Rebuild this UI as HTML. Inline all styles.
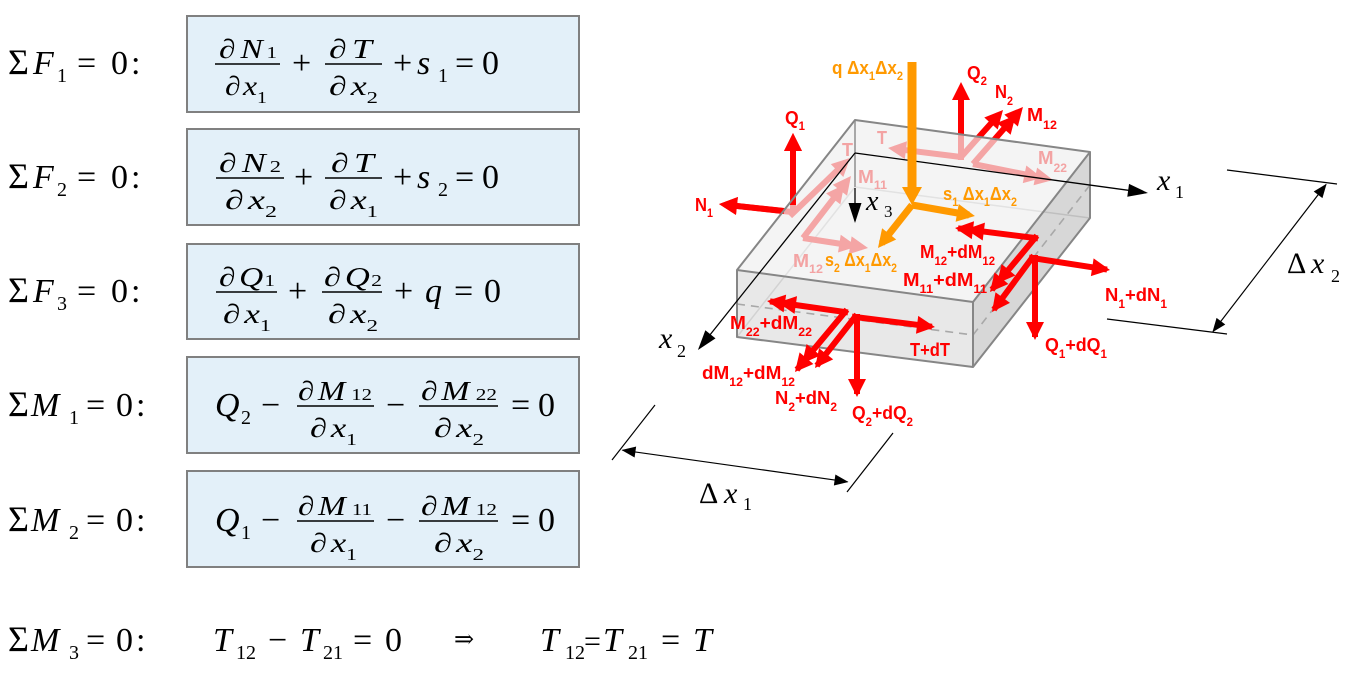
<!DOCTYPE html>
<html><head><meta charset="utf-8"><style>
html,body{margin:0;padding:0;background:#fff;}
svg{display:block;}
.eq, .eq text{font-family:"Liberation Serif","DejaVu Serif",serif;fill:#000;}
.i{font-style:italic;}
.lab, .lab text{font-family:"Liberation Sans","DejaVu Sans",sans-serif;font-weight:bold;font-size:18.5px;}
.r{fill:#ff0000;} .p{fill:#f3a3a3;} .o{fill:#ff9900;}
.sb{font-size:12px;}
.ax, .ax text{font-family:"Liberation Serif","DejaVu Serif",serif;fill:#000;}
</style></head><body>
<svg width="1354" height="681" viewBox="0 0 1354 681" xmlns="http://www.w3.org/2000/svg">
<defs>
<marker id="ar" markerUnits="userSpaceOnUse" orient="auto" viewBox="-30 -15 40 30" markerWidth="40" markerHeight="30" refX="0" refY="0"><path d="M-12,-9L6,0L-12,9z" fill="#f00"/></marker>
<marker id="ar2" markerUnits="userSpaceOnUse" orient="auto" viewBox="-30 -15 40 30" markerWidth="40" markerHeight="30" refX="0" refY="0"><path d="M-12,-9L6,0L-12,9zM-23,-9L-5,0L-23,9z" fill="#f00"/></marker>
<marker id="ao" markerUnits="userSpaceOnUse" orient="auto" viewBox="-30 -15 40 30" markerWidth="40" markerHeight="30" refX="0" refY="0"><path d="M-12,-9L6,0L-12,9z" fill="#f90"/></marker>
<marker id="aq" markerUnits="userSpaceOnUse" orient="auto" viewBox="-30 -15 40 30" markerWidth="40" markerHeight="30" refX="0" refY="0"><path d="M-10,-10L8,0L-10,10z" fill="#f90"/></marker>
<marker id="ak" markerUnits="userSpaceOnUse" orient="auto" viewBox="-30 -15 40 30" markerWidth="40" markerHeight="30" refX="0" refY="0"><path d="M-18,-6.5L2,0L-18,6.5z" fill="#000"/></marker>
<marker id="akd" markerUnits="userSpaceOnUse" orient="auto-start-reverse" viewBox="-30 -15 40 30" markerWidth="40" markerHeight="30" refX="0" refY="0"><path d="M-13,-5.5L1,0L-13,5.5z" fill="#000"/></marker>
</defs>

<!-- ================= EQUATIONS ================= -->
<g fill="#e3f0f9" stroke="#808080" stroke-width="2">
<rect x="187" y="16" width="392" height="96"/>
<rect x="187" y="129" width="392" height="96"/>
<rect x="187" y="244" width="392" height="95"/>
<rect x="187" y="357" width="392" height="96"/>
<rect x="187" y="471" width="392" height="96"/>
</g>

<g stroke="#000" stroke-width="1.4">
<line x1="215" y1="64" x2="280" y2="64"/><line x1="325" y1="64" x2="382" y2="64"/>
<line x1="216" y1="178" x2="284" y2="178"/><line x1="325" y1="178" x2="382" y2="178"/>
<line x1="216" y1="292" x2="277" y2="292"/><line x1="322" y1="292" x2="382" y2="292"/>
<line x1="297" y1="406" x2="374" y2="406"/><line x1="419" y1="406" x2="498" y2="406"/>
<line x1="297" y1="521" x2="374" y2="521"/><line x1="419" y1="521" x2="498" y2="521"/>
</g>

<!-- left labels -->
<g class="eq" font-size="34" font-family="Liberation Serif, serif">
<text y="74"><tspan x="8" font-size="36">Σ</tspan><tspan x="33" class="i">F</tspan><tspan x="57" y="82" font-size="20">1</tspan><tspan x="77" y="74">=</tspan><tspan x="111">0</tspan><tspan x="131">:</tspan></text>
<text y="188"><tspan x="8" font-size="36">Σ</tspan><tspan x="33" class="i">F</tspan><tspan x="57" y="196" font-size="20">2</tspan><tspan x="77" y="188">=</tspan><tspan x="111">0</tspan><tspan x="131">:</tspan></text>
<text y="302"><tspan x="8" font-size="36">Σ</tspan><tspan x="33" class="i">F</tspan><tspan x="57" y="310" font-size="20">3</tspan><tspan x="77" y="302">=</tspan><tspan x="111">0</tspan><tspan x="131">:</tspan></text>
<text y="416"><tspan x="8" font-size="36">Σ</tspan><tspan x="31" class="i">M</tspan><tspan x="69" y="424" font-size="20">1</tspan><tspan x="86" y="416">=</tspan><tspan x="116">0</tspan><tspan x="136">:</tspan></text>
<text y="531"><tspan x="8" font-size="36">Σ</tspan><tspan x="31" class="i">M</tspan><tspan x="69" y="539" font-size="20">2</tspan><tspan x="86" y="531">=</tspan><tspan x="116">0</tspan><tspan x="136">:</tspan></text>
<text y="651"><tspan x="8" font-size="36">Σ</tspan><tspan x="31" class="i">M</tspan><tspan x="69" y="659" font-size="20">3</tspan><tspan x="86" y="651">=</tspan><tspan x="116">0</tspan><tspan x="136">:</tspan></text>
</g>

<!-- fraction parts -->
<g class="eq" font-size="27" font-family="Liberation Serif, serif">
<!-- row 1 -->
<text x="219" y="58" textLength="58" lengthAdjust="spacingAndGlyphs">∂<tspan class="i" dx="4">N</tspan><tspan font-size="17" dx="3">1</tspan></text>
<text x="225" y="95" textLength="42" lengthAdjust="spacingAndGlyphs">∂<tspan class="i" dx="2">x</tspan><tspan font-size="17" dy="8">1</tspan></text>
<text x="329" y="58" textLength="43" lengthAdjust="spacingAndGlyphs">∂<tspan class="i" dx="4">T</tspan></text>
<text x="329" y="95" textLength="49" lengthAdjust="spacingAndGlyphs">∂<tspan class="i" dx="3">x</tspan><tspan font-size="17" dy="8">2</tspan></text>
<!-- row 2 -->
<text x="219" y="172" textLength="62" lengthAdjust="spacingAndGlyphs">∂<tspan class="i" dx="4">N</tspan><tspan font-size="17" dx="3">2</tspan></text>
<text x="225" y="209" textLength="52" lengthAdjust="spacingAndGlyphs">∂<tspan class="i" dx="3">x</tspan><tspan font-size="17" dy="8">2</tspan></text>
<text x="331" y="172" textLength="43" lengthAdjust="spacingAndGlyphs">∂<tspan class="i" dx="4">T</tspan></text>
<text x="329" y="209" textLength="49" lengthAdjust="spacingAndGlyphs">∂<tspan class="i" dx="3">x</tspan><tspan font-size="17" dy="8">1</tspan></text>
<!-- row 3 -->
<text x="219" y="286" textLength="56" lengthAdjust="spacingAndGlyphs">∂<tspan class="i" dx="3">Q</tspan><tspan font-size="17" dx="1">1</tspan></text>
<text x="223" y="323" textLength="48" lengthAdjust="spacingAndGlyphs">∂<tspan class="i" dx="3">x</tspan><tspan font-size="17" dy="8">1</tspan></text>
<text x="324" y="286" textLength="58" lengthAdjust="spacingAndGlyphs">∂<tspan class="i" dx="3">Q</tspan><tspan font-size="17" dx="1">2</tspan></text>
<text x="328" y="323" textLength="50" lengthAdjust="spacingAndGlyphs">∂<tspan class="i" dx="3">x</tspan><tspan font-size="17" dy="8">2</tspan></text>
<!-- row 4 -->
<text x="298" y="400" textLength="74" lengthAdjust="spacingAndGlyphs">∂<tspan class="i" dx="3">M</tspan><tspan font-size="17" dx="5">12</tspan></text>
<text x="310" y="437" textLength="47" lengthAdjust="spacingAndGlyphs">∂<tspan class="i" dx="3">x</tspan><tspan font-size="17" dy="8">1</tspan></text>
<text x="421" y="400" textLength="76" lengthAdjust="spacingAndGlyphs">∂<tspan class="i" dx="3">M</tspan><tspan font-size="17" dx="5">22</tspan></text>
<text x="434" y="437" textLength="50" lengthAdjust="spacingAndGlyphs">∂<tspan class="i" dx="3">x</tspan><tspan font-size="17" dy="8">2</tspan></text>
<!-- row 5 -->
<text x="298" y="515" textLength="74" lengthAdjust="spacingAndGlyphs">∂<tspan class="i" dx="3">M</tspan><tspan font-size="17" dx="5">11</tspan></text>
<text x="310" y="552" textLength="47" lengthAdjust="spacingAndGlyphs">∂<tspan class="i" dx="3">x</tspan><tspan font-size="17" dy="8">1</tspan></text>
<text x="421" y="515" textLength="76" lengthAdjust="spacingAndGlyphs">∂<tspan class="i" dx="3">M</tspan><tspan font-size="17" dx="5">12</tspan></text>
<text x="434" y="552" textLength="50" lengthAdjust="spacingAndGlyphs">∂<tspan class="i" dx="3">x</tspan><tspan font-size="17" dy="8">2</tspan></text>
</g>

<!-- main-level symbols in boxes -->
<g class="eq" font-size="34" font-family="Liberation Serif, serif">
<text y="74"><tspan x="292">+</tspan><tspan x="393">+</tspan><tspan x="417" class="i">s</tspan><tspan x="438" y="82" font-size="20">1</tspan><tspan x="455" y="74">=</tspan><tspan x="482">0</tspan></text>
<text y="188"><tspan x="294">+</tspan><tspan x="393">+</tspan><tspan x="417" class="i">s</tspan><tspan x="438" y="196" font-size="20">2</tspan><tspan x="455" y="188">=</tspan><tspan x="482">0</tspan></text>
<text y="302"><tspan x="288">+</tspan><tspan x="394">+</tspan><tspan x="425" class="i">q</tspan><tspan x="454">=</tspan><tspan x="484">0</tspan></text>
<text y="416"><tspan x="215" class="i">Q</tspan><tspan x="241" y="424" font-size="20">2</tspan><tspan x="261" y="416">−</tspan><tspan x="386">−</tspan><tspan x="511">=</tspan><tspan x="538">0</tspan></text>
<text y="531"><tspan x="215" class="i">Q</tspan><tspan x="241" y="539" font-size="20">1</tspan><tspan x="261" y="531">−</tspan><tspan x="386">−</tspan><tspan x="511">=</tspan><tspan x="538">0</tspan></text>
<!-- row 6 -->
<text y="651"><tspan x="213" class="i">T</tspan><tspan x="236" y="659" font-size="20">12</tspan><tspan x="268" y="651">−</tspan><tspan x="300" class="i">T</tspan><tspan x="323" y="659" font-size="20">21</tspan><tspan x="353" y="651">=</tspan><tspan x="385">0</tspan></text>
<text x="454" y="647" font-size="24" style="font-family:'DejaVu Serif','Liberation Serif',serif">⇒</text>
<text y="651"><tspan x="540" class="i">T</tspan><tspan x="565" y="659" font-size="20">12</tspan><tspan x="584" y="651" font-size="30">=</tspan><tspan x="603" class="i">T</tspan><tspan x="628" y="659" font-size="20">21</tspan><tspan x="661" y="651">=</tspan><tspan x="693" class="i">T</tspan></text>
</g>

<!-- ================= DIAGRAM ================= -->
<!-- hidden edges -->
<g stroke="#c4c4c4" stroke-width="1.5" fill="none">
<line x1="855" y1="187" x2="1090" y2="218"/>
<line x1="855" y1="187" x2="737" y2="337"/>
</g>

<!-- back arrows (seen through top face) -->
<g stroke="#f00" stroke-width="6" fill="none">
<line x1="792" y1="212" x2="725" y2="204.7" marker-end="url(#ar)"/>
<line x1="790" y1="216" x2="845.7" y2="162.2" marker-end="url(#ar)"/>
<line x1="803" y1="238" x2="847.3" y2="180.7" marker-end="url(#ar2)"/>
<line x1="803" y1="238" x2="862.1" y2="247.1" marker-end="url(#ar2)"/>
<line x1="961" y1="157" x2="894" y2="148.7" marker-end="url(#ar)"/>
<line x1="973" y1="164" x2="1047.1" y2="178.8" marker-end="url(#ar2)"/>
<line x1="961" y1="157" x2="999" y2="114.5" marker-end="url(#ar)"/>
<line x1="973" y1="164" x2="1019" y2="111.5" marker-end="url(#ar2)"/>
<line x1="961" y1="160" x2="961" y2="88" marker-end="url(#ar)"/>
<line x1="793" y1="214" x2="793" y2="139" marker-end="url(#ar)"/>
</g>

<!-- box faces -->
<polygon points="855,120 1090,152 973,302 737,270" fill="rgba(239,239,239,0.69)"/>
<polygon points="737,270 973,302 973,367 737,337" fill="rgba(218,218,218,0.62)"/>
<polygon points="973,302 1090,152 1090,218 973,367" fill="rgba(188,188,188,0.6)"/>
<!-- redraw outside-face red parts of Q1 / N1 -->
<g stroke="#f00" stroke-width="6" fill="none">
<line x1="793" y1="205" x2="793" y2="139" marker-end="url(#ar)"/>
<line x1="784" y1="211" x2="725" y2="204.7" marker-end="url(#ar)"/>
</g>
<!-- back vertical edge -->
<line x1="855" y1="120" x2="855" y2="187" stroke="#a8a8a8" stroke-width="2"/>
<!-- dashed mid lines -->
<g stroke="#a8a8a8" stroke-width="1.6" stroke-dasharray="8,6" fill="none">
<line x1="737" y1="304" x2="973" y2="335"/>
<line x1="973" y1="335" x2="1090" y2="185"/>
</g>
<!-- box visible edges -->
<g stroke="#868686" stroke-width="2" fill="none" stroke-linejoin="round">
<polygon points="855,120 1090,152 973,302 737,270"/>
<polyline points="737,270 737,337 973,367 973,302"/>
<polyline points="973,367 1090,218 1090,152"/>
</g>

<!-- axes -->
<g stroke="#000" stroke-width="1.3" fill="none">
<line x1="855" y1="153" x2="1146" y2="192.7" marker-end="url(#ak)"/>
<line x1="855" y1="153" x2="699.2" y2="348.4" marker-end="url(#ak)"/>
<line x1="855" y1="188" x2="855" y2="221" marker-end="url(#ak)"/>
</g>
<!-- dimensions -->
<g stroke="#000" stroke-width="1.2" fill="none">
<line x1="1227" y1="170" x2="1337" y2="184"/>
<line x1="1107" y1="319" x2="1227" y2="334"/>
<line x1="1326" y1="184.5" x2="1213" y2="331.5" marker-start="url(#akd)" marker-end="url(#akd)"/>
<line x1="655" y1="405" x2="612" y2="460"/>
<line x1="893" y1="433" x2="847" y2="492"/>
<line x1="622.5" y1="450.2" x2="847.5" y2="481.8" marker-start="url(#akd)" marker-end="url(#akd)"/>
</g>

<!-- orange arrows -->
<line x1="912" y1="62" x2="912" y2="197" stroke="#f90" stroke-width="9" marker-end="url(#aq)"/>
<g stroke="#f90" stroke-width="7" fill="none">
<line x1="912" y1="205" x2="969" y2="215" marker-end="url(#ao)"/>
<line x1="912" y1="205" x2="881.7" y2="243.3" marker-end="url(#ao)"/>
</g>

<!-- front red arrows -->
<g stroke="#f00" stroke-width="6" fill="none" stroke-linecap="square">
<line x1="1035" y1="238" x2="961" y2="228.7" marker-end="url(#ar2)"/>
<line x1="1035" y1="238" x2="993.8" y2="287.4" marker-end="url(#ar2)"/>
<line x1="1032" y1="258" x2="1104.1" y2="269.1" marker-end="url(#ar)"/>
<line x1="1035" y1="258" x2="1035" y2="334" marker-end="url(#ar)"/>
<line x1="1032" y1="258" x2="995.6" y2="307.2" marker-end="url(#ar)"/>
<line x1="845" y1="312" x2="773" y2="301.8" marker-end="url(#ar2)"/>
<line x1="845" y1="312" x2="798.8" y2="367.4" marker-end="url(#ar2)"/>
<line x1="855" y1="317" x2="929" y2="326.3" marker-end="url(#ar)"/>
<line x1="855" y1="317" x2="818.7" y2="363.3" marker-end="url(#ar)"/>
<line x1="857" y1="317" x2="857" y2="391" marker-end="url(#ar)"/>
</g>

<!-- axis labels -->
<g class="ax" font-family="Liberation Serif, serif">
<text x="1157" y="190" font-size="30" class="i">x</text><text x="1175" y="198" font-size="18">1</text>
<text x="659" y="348" font-size="30" class="i">x</text><text x="677" y="357" font-size="18">2</text>
<text x="866" y="210" font-size="28" class="i">x</text><text x="884" y="217" font-size="17">3</text>
<text x="1287" y="273" font-size="30">Δ</text><text x="1311" y="273" font-size="30" class="i">x</text><text x="1331" y="282" font-size="18">2</text>
<text x="699" y="503" font-size="30">Δ</text><text x="724" y="503" font-size="30" class="i">x</text><text x="743" y="510" font-size="18">1</text>
</g>

<!-- force labels -->
<g class="lab" font-family="Liberation Sans, sans-serif" font-weight="bold">
<!-- red -->
<text class="r" x="785" y="124" textLength="20" lengthAdjust="spacingAndGlyphs">Q<tspan class="sb" dy="6">1</tspan></text>
<text class="r" x="695" y="211" textLength="18" lengthAdjust="spacingAndGlyphs">N<tspan class="sb" dy="6">1</tspan></text>
<text class="r" x="967" y="79" textLength="20" lengthAdjust="spacingAndGlyphs">Q<tspan class="sb" dy="6">2</tspan></text>
<text class="r" x="995" y="98" textLength="18" lengthAdjust="spacingAndGlyphs">N<tspan class="sb" dy="7">2</tspan></text>
<text class="r" x="1027" y="121" textLength="30" lengthAdjust="spacingAndGlyphs">M<tspan class="sb" dy="8">12</tspan></text>
<text class="r" x="920" y="258" textLength="75" lengthAdjust="spacingAndGlyphs">M<tspan class="sb" dy="7">12</tspan><tspan dy="-7">+dM</tspan><tspan class="sb" dy="7">12</tspan></text>
<text class="r" x="903" y="286" textLength="84" lengthAdjust="spacingAndGlyphs">M<tspan class="sb" dy="7">11</tspan><tspan dy="-7">+dM</tspan><tspan class="sb" dy="7">11</tspan></text>
<text class="r" x="1105" y="301" textLength="62" lengthAdjust="spacingAndGlyphs">N<tspan class="sb" dy="7">1</tspan><tspan dy="-7">+dN</tspan><tspan class="sb" dy="7">1</tspan></text>
<text class="r" x="1045" y="351" textLength="62" lengthAdjust="spacingAndGlyphs">Q<tspan class="sb" dy="7">1</tspan><tspan dy="-7">+dQ</tspan><tspan class="sb" dy="7">1</tspan></text>
<text class="r" x="730" y="329" textLength="82" lengthAdjust="spacingAndGlyphs">M<tspan class="sb" dy="7">22</tspan><tspan dy="-7">+dM</tspan><tspan class="sb" dy="7">22</tspan></text>
<text class="r" x="910" y="356" textLength="40" lengthAdjust="spacingAndGlyphs">T+dT</text>
<text class="r" x="702" y="379" textLength="93" lengthAdjust="spacingAndGlyphs">dM<tspan class="sb" dy="7">12</tspan><tspan dy="-7">+dM</tspan><tspan class="sb" dy="7">12</tspan></text>
<text class="r" x="775" y="404" textLength="62" lengthAdjust="spacingAndGlyphs">N<tspan class="sb" dy="7">2</tspan><tspan dy="-7">+dN</tspan><tspan class="sb" dy="7">2</tspan></text>
<text class="r" x="852" y="419" textLength="61" lengthAdjust="spacingAndGlyphs">Q<tspan class="sb" dy="7">2</tspan><tspan dy="-7">+dQ</tspan><tspan class="sb" dy="7">2</tspan></text>
<!-- pink -->
<text class="p" x="842" y="156" textLength="11" lengthAdjust="spacingAndGlyphs">T</text>
<text class="p" x="858" y="183" textLength="29" lengthAdjust="spacingAndGlyphs">M<tspan class="sb" dy="6">11</tspan></text>
<text class="p" x="793" y="267" textLength="30" lengthAdjust="spacingAndGlyphs">M<tspan class="sb" dy="6">12</tspan></text>
<text class="p" x="877" y="144" textLength="10" lengthAdjust="spacingAndGlyphs">T</text>
<text class="p" x="1038" y="164" textLength="29" lengthAdjust="spacingAndGlyphs">M<tspan class="sb" dy="8">22</tspan></text>
<!-- orange -->
<text class="o" x="832" y="74" textLength="71" lengthAdjust="spacingAndGlyphs">q Δx<tspan class="sb" dy="6">1</tspan><tspan dy="-6">Δx</tspan><tspan class="sb" dy="6">2</tspan></text>
<text class="o" x="943" y="200" textLength="74" lengthAdjust="spacingAndGlyphs">s<tspan class="sb" dy="6">1</tspan><tspan dy="-6"> Δx</tspan><tspan class="sb" dy="6">1</tspan><tspan dy="-6">Δx</tspan><tspan class="sb" dy="6">2</tspan></text>
<text class="o" x="825" y="266" textLength="72" lengthAdjust="spacingAndGlyphs">s<tspan class="sb" dy="6">2</tspan><tspan dy="-6"> Δx</tspan><tspan class="sb" dy="6">1</tspan><tspan dy="-6">Δx</tspan><tspan class="sb" dy="6">2</tspan></text>
</g>
</svg>
</body></html>
